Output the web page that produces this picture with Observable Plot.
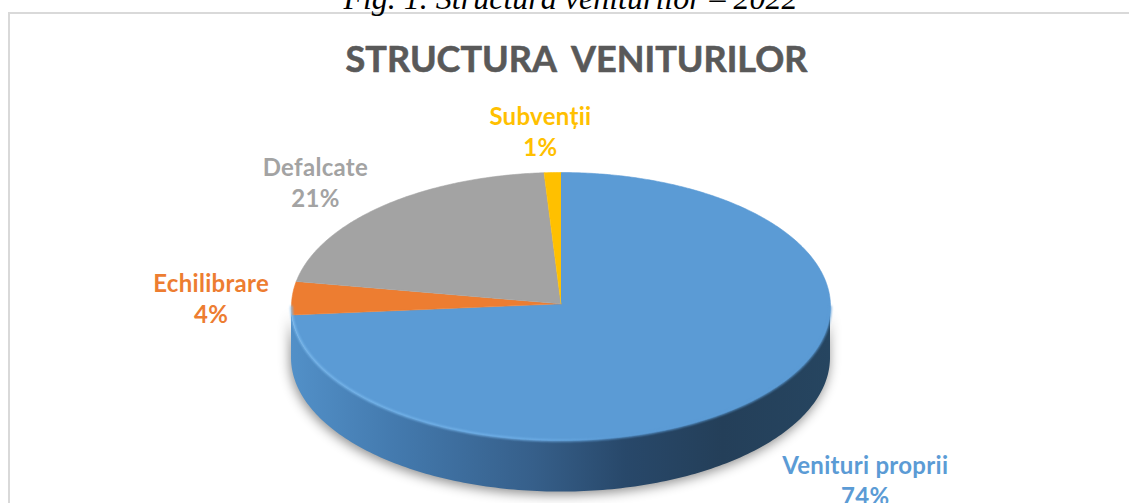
<!DOCTYPE html>
<html><head><meta charset="utf-8">
<script src="https://cdn.jsdelivr.net/npm/d3@7"></script>
<script src="https://cdn.jsdelivr.net/npm/@observablehq/plot@0.6"></script>
<style>
html,body{margin:0;padding:0;background:#fff;overflow:hidden}
#wrap{position:relative;width:1129px;height:503px;overflow:hidden}
#box{position:absolute;left:8px;top:12px;width:1300px;height:600px;border:2px solid #d9d9d9}
#wrap svg{position:absolute;left:0;top:0;background:transparent}
</style></head><body>
<div id="wrap"><div id="box"></div></div>
<script>
const names = ["Venituri proprii", "Echilibrare", "Defalcate", "Subvenții"];
const shares = [74, 4, 21, 1];
const colors = ["#5b9bd5", "#ed7d31", "#a3a3a3", "#ffc000"];
const labelShiftX = [0.40, -0.30, -0.25, -0.045];
const labelShiftY = [-0.605, 0.005, 0.185, 0.31];
const caption = "Fig. 1. Structura veniturilor – 2022";
const heading = "STRUCTURA VENITURILOR";
const sideDepth = 0.385;
const hubY = 0.02;

const total = d3.sum(shares);
let running = 0;
const slices = names.map((name, i) => {
  const start = running / total * 2 * Math.PI;
  running += shares[i];
  const end = running / total * 2 * Math.PI;
  const mid = (start + end) / 2;
  return {name, share: shares[i], start, end,
    label: `${name}\n${shares[i]}%`,
    lx: Math.sin(mid) + labelShiftX[i],
    ly: Math.cos(mid) + labelShiftY[i]};
});
const outline = slices.flatMap(s => {
  const n = Math.max(4, Math.ceil((s.end - s.start) * 90));
  const arc = d3.range(n + 1).map(k => {
    const a = s.start + (s.end - s.start) * k / n;
    return {name: s.name, x: Math.sin(a), y: Math.cos(a)};
  });
  return [{name: s.name, x: 0, y: hubY}, ...arc];
});
const front = d3.range(0, 181).map(k => {
  const a = Math.PI / 2 + k * Math.PI / 180;
  return {x: Math.sin(a), y: Math.cos(a)};
}).reverse();

function defs() {
  const g = d3.create("svg:defs");
  const side = g.append("linearGradient").attr("id", "sideFill");
  [[0,"#5290c8"],[0.2,"#4379ad"],[0.45,"#365f8a"],[0.62,"#28486a"],[0.8,"#243f59"],[1,"#264560"]]
    .forEach(([o,c]) => side.append("stop").attr("offset", o).attr("stop-color", c));
  const rim = g.append("linearGradient").attr("id", "rimStroke");
  [[0,"#7dbcf0"],[0.45,"#72b2ea"],[0.6,"#5b9bd5"],[1,"#5b9bd5"]]
    .forEach(([o,c]) => rim.append("stop").attr("offset", o).attr("stop-color", c));
  return g.node();
}

const chart = Plot.plot({
  width: 1129, height: 503, margin: 0,
  style: {background: "transparent"},
  x: {domain: [-1, 1], range: [291, 830], axis: null},
  y: {domain: [-1, 1], range: [440, 172], axis: null},
  color: {domain: names, range: colors},
  marks: [
    defs,
    Plot.areaY(front, {x: "x", y1: "y", y2: d => d.y - sideDepth, fill: "url(#sideFill)",
      imageFilter: "drop-shadow(-1px 3px 6px rgba(0,0,0,.45))"}),
    Plot.line(outline, {x: "x", y: "y", z: "name", fill: "name", stroke: "name", strokeWidth: 0.6,
      imageFilter: "blur(0.5px)"}),
    Plot.line(front, {x: "x", y: "y", stroke: "url(#rimStroke)", strokeWidth: 2, imageFilter: "blur(0.8px)"}),
    Plot.text(slices, {x: "lx", y: "ly", text: "label", fill: "name", fontFamily: "Lato",
      fontWeight: 700, fontSize: 24, lineHeight: 1.29, textAnchor: "middle"}),
    Plot.text([heading], {frameAnchor: "top-left", dx: 576, dy: 60, text: d => d, fill: "#595959",
      stroke: "#595959", strokeWidth: 0.6, fontFamily: "Lato", fontWeight: 700, fontSize: 36, textAnchor: "middle", lineAnchor: "middle"}),
    Plot.text([caption], {frameAnchor: "top-left", dx: 570, dy: 8, text: d => d, fill: "#000",
      fontFamily: "Liberation Serif", fontStyle: "italic", fontSize: 32, textAnchor: "middle", lineAnchor: "bottom"})
  ]
});
d3.select(chart).selectAll("text").each(function () {
  const t = this.textContent;
  if (t === heading) this.style.wordSpacing = "8px";
  else if (t !== caption) this.style.letterSpacing = "0.3px";
});
document.getElementById("wrap").appendChild(chart);
</script>
</body></html>
